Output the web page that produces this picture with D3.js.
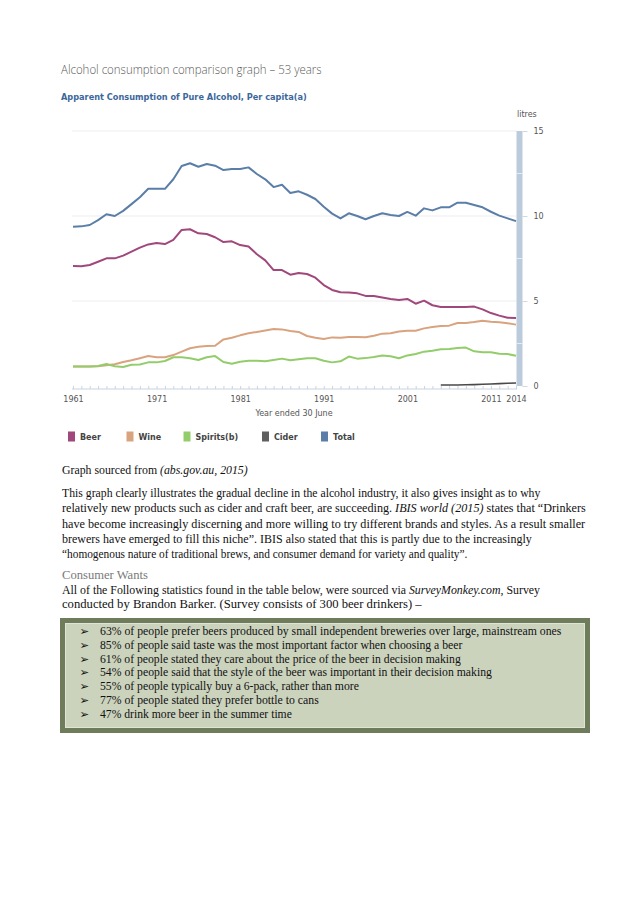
<!DOCTYPE html>
<html><head><meta charset="utf-8">
<script src="https://cdn.jsdelivr.net/npm/d3@7/dist/d3.min.js"></script>
<style>
html,body{margin:0;padding:0;background:#fff;}
svg{display:block;}
</style></head>
<body>
<svg id="c" width="638" height="903"></svg>
<script>
// ---------- DATA ----------
const years = [1961,1962,1963,1964,1965,1966,1967,1968,1969,1970,1971,1972,1973,1974,1975,1976,1977,1978,1979,1980,1981,1982,1983,1984,1985,1986,1987,1988,1989,1990,1991,1992,1993,1994,1995,1996,1997,1998,1999,2000,2001,2002,2003,2004,2005,2006,2007,2008,2009,2010,2011,2012,2013,2014];
const totalVals = [9.37,9.39,9.47,9.76,10.1,10.0,10.3,10.7,11.1,11.6,11.6,11.6,12.16,12.94,13.1,12.9,13.06,12.96,12.7,12.76,12.76,12.86,12.47,12.16,11.7,11.84,11.35,11.45,11.25,11.0,10.55,10.14,9.86,10.16,10.0,9.81,10.0,10.16,10.06,10.0,10.24,10.02,10.45,10.33,10.51,10.51,10.78,10.78,10.65,10.51,10.25,10.02,9.86,9.7];
const beerVals = [7.06,7.04,7.12,7.31,7.51,7.51,7.67,7.9,8.14,8.33,8.41,8.35,8.59,9.18,9.22,8.98,8.94,8.75,8.47,8.51,8.29,8.2,7.75,7.39,6.82,6.82,6.55,6.65,6.59,6.37,5.94,5.65,5.51,5.5,5.45,5.3,5.29,5.2,5.12,5.06,5.12,4.84,5.02,4.75,4.65,4.65,4.65,4.65,4.67,4.51,4.29,4.14,4.02,4.0];
const wineVals = [1.14,1.15,1.15,1.16,1.22,1.28,1.41,1.51,1.63,1.76,1.69,1.69,1.82,2.02,2.22,2.31,2.35,2.37,2.74,2.84,2.98,3.1,3.18,3.27,3.35,3.33,3.24,3.18,2.94,2.84,2.76,2.86,2.84,2.88,2.88,2.87,2.96,3.08,3.1,3.2,3.25,3.25,3.39,3.47,3.53,3.55,3.71,3.71,3.76,3.84,3.78,3.75,3.69,3.61];
const spiritsVals = [1.14,1.15,1.15,1.18,1.29,1.16,1.12,1.25,1.27,1.39,1.39,1.47,1.69,1.69,1.63,1.53,1.69,1.76,1.41,1.31,1.43,1.49,1.49,1.45,1.53,1.61,1.51,1.57,1.63,1.63,1.49,1.39,1.45,1.73,1.61,1.64,1.71,1.8,1.75,1.63,1.8,1.88,2.02,2.08,2.16,2.18,2.24,2.26,2.04,1.98,1.98,1.9,1.88,1.78];
const ciderYears = [2005,2006,2007,2008,2009,2010,2011,2012,2013,2014];
const ciderVals = [0.06,0.06,0.06,0.07,0.08,0.10,0.12,0.14,0.16,0.18];
const xLabelYears = [1961,1971,1981,1991,2001,2011,2014];
const yTicks = [0,5,10,15];
const sliderMarks = [2.5,7.5,12.5];
const seriesNames = ["Beer","Wine","Spirits(b)","Cider","Total"];
const seriesColors = ["#a0477b","#d9a37f","#93cd6b","#5f5f5f","#5a7ea8"];

const pageTitle = "Alcohol consumption comparison graph \u2013 53 years";
const chartTitle = "Apparent Consumption of Pure Alcohol, Per capita(a)";
const xTitle = "Year ended 30 June";
const unitLabel = "litres";

const bodyLines = [
  [["Graph sourced from ",0],["(abs.gov.au, 2015)",1]],
  [["This graph clearly illustrates the gradual decline in the alcohol industry, it also gives insight as to why",0]],
  [["relatively new products such as cider and craft beer, are succeeding. ",0],["IBIS world (2015)",1],[" states that \u201cDrinkers",0]],
  [["have become increasingly discerning and more willing to try different brands and styles. As a result smaller",0]],
  [["brewers have emerged to fill this niche\u201d.  IBIS also stated that this is partly due to the increasingly",0]],
  [["\u201chomogenous nature of traditional brews, and consumer demand for variety and quality\u201d.",0]]
];
const bodyWidths = [186, 479, 524, 524, 470, 406];
const bodyY = [474, 497, 512, 528, 543, 558];

const wantsLines = [
  [["All of the Following statistics found in the table below, were sourced via ",0],["SurveyMonkey.com",1],[", Survey",0]],
  [["conducted by Brandon Barker. (Survey consists of 300 beer drinkers) \u2013",0]]
];
const wantsWidths = [478, 360];
const wantsY = [594, 608];

const bullets = [
  "63% of people prefer beers produced by small independent breweries over large, mainstream ones",
  "85% of people said taste was the most important factor when choosing a beer",
  "61% of people stated they care about the price of the beer in decision making",
  "54% of people said that the style of the beer was important in their decision making",
  "55% of people typically buy a 6-pack, rather than more",
  "77% of people stated they prefer bottle to cans",
  "47% drink more beer in the summer time"
];
const bulletWidths = [462, 363, 361, 392, 259, 219, 192];

// ---------- DRAW ----------
const svg = d3.select("#c");
svg.append("rect").attr("width",638).attr("height",903).attr("fill","#fff");

function fitText(g, x, y, segs, width, font, size, fill, weight){
  const grp = g.append("g");
  const t = grp.append("text").attr("x",0).attr("y",0)
    .style("font-family",font).style("font-size",size+"px").attr("fill",fill)
    .style("font-weight",weight||"normal");
  segs.forEach(s=>{
    t.append("tspan").text(s[0]).style("font-style", s[1]?"italic":"normal");
  });
  const w = t.node().getComputedTextLength();
  const sx = width / w;
  grp.attr("transform",`translate(${x},${y}) scale(${sx},1)`);
  return grp;
}

// page title
fitText(svg, 61, 74, [[pageTitle,0]], 261, "'Open Sans', Lato, sans-serif", 12, "#595959", 300);
// chart title
fitText(svg, 61, 100, [[chartTitle,0]], 246, "'DejaVu Sans', Verdana, sans-serif", 8, "#3c679c", "bold");

const x = d3.scaleLinear().domain([1961,2014]).range([73,516]);
const y = d3.scaleLinear().domain([0,15]).range([386,131]);

// gridlines
svg.append("g").selectAll("line").data(yTicks.filter(d=>d>0)).join("line")
  .attr("x1",72).attr("x2",517).attr("y1",d=>y(d)).attr("y2",d=>y(d))
  .attr("stroke","#eeeeee").attr("stroke-width",1.2);

// slider bar
svg.append("rect").attr("x",516.5).attr("y",y(15)).attr("width",6).attr("height",y(0)-y(15))
  .attr("fill","#bccbdc");
svg.append("g").selectAll("line").data(sliderMarks).join("line")
  .attr("x1",516.5).attr("x2",522.5).attr("y1",d=>y(d)).attr("y2",d=>y(d))
  .attr("stroke","#e4ebf2").attr("stroke-width",1);

// right axis
const yAxis = d3.axisRight(y).tickValues(yTicks).tickSize(5).tickPadding(6).tickFormat(d3.format("d"));
const ya = svg.append("g").attr("transform","translate(522.5,0)").call(yAxis);
ya.select(".domain").remove();
ya.selectAll(".tick line").attr("stroke","#cfd8e2");
ya.selectAll(".tick text").attr("fill","#555").style("font-family","'DejaVu Sans', Verdana, sans-serif").style("font-size","8px");
svg.append("text").attr("x",517).attr("y",117).text(unitLabel)
  .style("font-family","'DejaVu Sans', Verdana, sans-serif").style("font-size","8px").attr("fill","#555");

// x axis (minor ticks)
const xMinor = d3.axisBottom(x).tickValues(years).tickSize(-3).tickFormat("");
const xm = svg.append("g").attr("transform","translate(0,389)").call(xMinor);
xm.select(".domain").attr("stroke","#c9d4e0").attr("d","M72,0H517");
xm.selectAll(".tick line").attr("stroke","#c9d4e0");
// x axis labels
const xAxis = d3.axisBottom(x).tickValues(xLabelYears).tickSize(0).tickPadding(10).tickFormat(d3.format("d"));
const xa = svg.append("g").attr("transform","translate(0,386)").call(xAxis);
xa.select(".domain").remove();
xa.selectAll(".tick text").attr("fill","#555").style("font-family","'DejaVu Sans', Verdana, sans-serif").style("font-size","8px");
svg.append("text").attr("x",294).attr("y",416).attr("text-anchor","middle").text(xTitle)
  .style("font-family","'DejaVu Sans', Verdana, sans-serif").style("font-size","8px").attr("fill","#555");

// lines
const line = d3.line().x(d=>x(d[0])).y(d=>y(d[1]));
const seriesData = [
  {vals: wineVals, yrs: years, c: seriesColors[1], w: 2},
  {vals: spiritsVals, yrs: years, c: seriesColors[2], w: 2},
  {vals: beerVals, yrs: years, c: seriesColors[0], w: 2},
  {vals: ciderVals, yrs: ciderYears, c: "#4a4a4a", w: 1.6},
  {vals: totalVals, yrs: years, c: seriesColors[4], w: 2}
];
seriesData.forEach(s=>{
  svg.append("path").datum(s.yrs.map((yr,i)=>[yr,s.vals[i]]))
    .attr("d",line).attr("fill","none").attr("stroke",s.c).attr("stroke-width",s.w)
    .attr("stroke-linejoin","round");
});

// legend
const legX = [68, 126.5, 183.5, 262, 321];
const lg = svg.append("g");
seriesNames.forEach((n,i)=>{
  lg.append("rect").attr("x",legX[i]).attr("y",431.5).attr("width",7).attr("height",10).attr("fill",seriesColors[i]);
  lg.append("text").attr("x",legX[i]+12).attr("y",440).text(n)
    .style("font-family","'DejaVu Sans', Verdana, sans-serif").style("font-size","8px").style("font-weight","bold").attr("fill","#444");
});

// body text
bodyLines.forEach((segs,i)=>{
  fitText(svg, 62, bodyY[i], segs, bodyWidths[i], "'Liberation Serif', 'Times New Roman', serif", 13, "#111");
});
fitText(svg, 62, 579, [["Consumer Wants",0]], 86, "'Liberation Serif', 'Times New Roman', serif", 13.5, "#7a7a7a");
wantsLines.forEach((segs,i)=>{
  fitText(svg, 62, wantsY[i], segs, wantsWidths[i], "'Liberation Serif', 'Times New Roman', serif", 12.6, "#111");
});

// box
svg.append("rect").attr("x",60).attr("y",618).attr("width",530).attr("height",115).attr("fill","#6f7c5b");
svg.append("rect").attr("x",65).attr("y",623).attr("width",520).attr("height",105).attr("fill","#dfe4d6");
svg.append("rect").attr("x",66).attr("y",624).attr("width",518).attr("height",103).attr("fill","#cbd3bd");
bullets.forEach((b,i)=>{
  const by = 635 + i*13.8;
  svg.append("text").attr("x",79.5).attr("y",by).text("\u27a2")
    .style("font-family","'DejaVu Sans', sans-serif").style("font-size","11.5px").attr("fill","#111");
  fitText(svg, 100, by, [[b,0]], bulletWidths[i], "'Liberation Serif', 'Times New Roman', serif", 12.5, "#111");
});
</script>
</body></html>
